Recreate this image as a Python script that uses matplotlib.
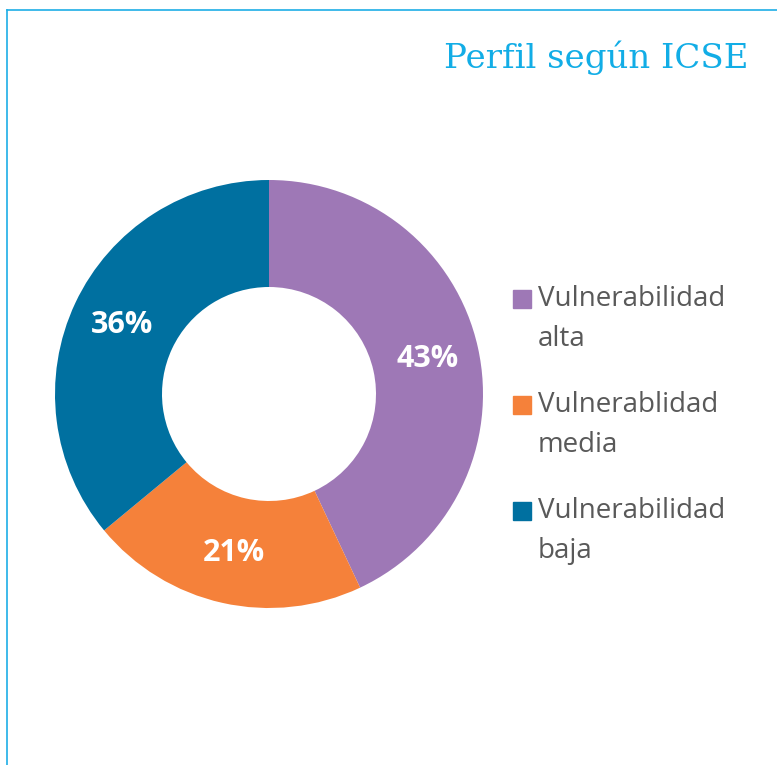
import matplotlib.pyplot as plt
from matplotlib.lines import Line2D
from matplotlib.patches import Rectangle

categories = ["Vulnerabilidad\nalta", "Vulnerablidad\nmedia", "Vulnerabilidad\nbaja"]
values = [43, 21, 36]
colors = ["#9E78B6", "#F5813A", "#0070A0"]
title = "Perfil según ICSE"

W, H = 777, 765
fig = plt.figure(figsize=(W / 100, H / 100), dpi=100)
fig.patch.set_facecolor("white")

# frame lines (top and left)
border = "#1EAEE6"
fig.add_artist(Line2D([7 / W, 1], [1 - 10 / H, 1 - 10 / H], color=border, lw=1.2))
fig.add_artist(Line2D([7 / W, 7 / W], [0, 1 - 10 / H], color=border, lw=1.2))

fig.text(748 / W, 1 - 68 / H, title, ha="right", va="baseline",
         fontsize=24.5, color="#12ADE6", family="DejaVu Serif")

# donut
cx, cy, r = 269, 394, 214
ax = fig.add_axes([(cx - r) / W, (H - cy - r) / H, 2 * r / W, 2 * r / H])
wedges, texts, autotexts = ax.pie(
    values, colors=colors, startangle=90, counterclock=False,
    autopct="%d%%", pctdistance=0.76,
    wedgeprops=dict(width=0.5, linewidth=0),
    textprops=dict(color="white", fontsize=22, fontweight="bold",
                   family="Open Sans", fontstretch="normal"),
)
ax.set_xlim(-1, 1)
ax.set_ylim(-1, 1)
ax.set_aspect("equal")
ax.axis("off")

# legend drawn by hand so the square sits on the first line
for i, (lab, c) in enumerate(zip(categories, colors)):
    y = 299 + i * 106
    fig.add_artist(Rectangle((513 / W, 1 - (y + 9) / H), 18 / W, 18 / H,
                             transform=fig.transFigure, color=c))
    # baseline of the second line
    fig.text(538 / W, 1 - (y + 47) / H, lab, ha="left", va="baseline", fontsize=20,
             color="#595959", family="Open Sans", linespacing=1.55)

fig.savefig("out.png", dpi=100)
